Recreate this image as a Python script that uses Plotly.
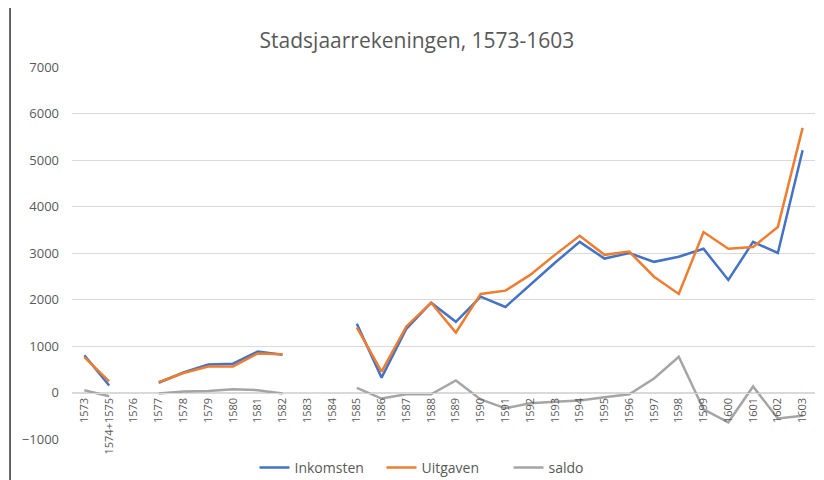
import plotly.graph_objects as go

categories = ["1573", "1574+1575", "1576", "1577", "1578", "1579", "1580", "1581", "1582",
              "1583", "1584", "1585", "1586", "1587", "1588", "1589", "1590", "1591", "1592",
              "1593", "1594", "1595", "1596", "1597", "1598", "1599", "1600", "1601", "1602", "1603"]

inkomsten = [800, 150, None, 210, 430, 600, 620, 880, 810,
             None, None, 1480, 320, 1370, 1930, 1520, 2060, 1840, 2320,
             2790, 3240, 2880, 3000, 2810, 2920, 3090, 2420, 3240, 3000, 5210]

uitgaven = [760, 240, None, 220, 420, 560, 560, 840, 820,
            None, None, 1400, 450, 1420, 1930, 1290, 2120, 2190, 2530,
            2960, 3370, 2960, 3030, 2490, 2120, 3450, 3090, 3130, 3560, 5690]

saldo = [50, -80, None, -20, 20, 30, 70, 50, -20,
         None, None, 100, -130, -40, -40, 260, -150, -340, -230,
         -200, -170, -100, -40, 300, 770, -360, -640, 130, -560, -500]

y_range = [-1000, 7000]
grey_text = "#595959"
font_family = "Open Sans"

fig = go.Figure()
fig.add_trace(go.Scatter(x=categories, y=inkomsten, name="Inkomsten", mode="lines",
                         line=dict(color="#4472C4", width=2.5)))
fig.add_trace(go.Scatter(x=categories, y=uitgaven, name="Uitgaven", mode="lines",
                         line=dict(color="#ED7D31", width=2.5)))
fig.add_trace(go.Scatter(x=categories, y=saldo, name="saldo", mode="lines",
                         line=dict(color="#A5A5A5", width=2.5)))

zero_pos = (0 - y_range[0]) / (y_range[1] - y_range[0])

# page body adds an 8px offset, so the figure is 816x472
fig.update_layout(
    width=816, height=472,
    margin=dict(l=64, r=9, t=59, b=41, autoexpand=False),
    paper_bgcolor="white", plot_bgcolor="white",
    font=dict(family=font_family, color=grey_text),
    title=dict(text="Stadsjaarrekeningen, 1573-1603", x=409 / 816, xanchor="center",
               y=1 - 33 / 472, yanchor="middle",
               font=dict(size=21, color=grey_text, family=font_family)),
    showlegend=True,
    legend=dict(orientation="h", x=0.502, xanchor="center", y=-0.078, yanchor="middle",
                font=dict(size=14, color=grey_text), itemwidth=30, entrywidth=82,
                bgcolor="rgba(0,0,0,0)"),
    xaxis=dict(type="category", categoryorder="array", categoryarray=categories,
               range=[-0.5, len(categories) - 0.5], automargin=False,
               anchor="free", position=zero_pos, showgrid=False,
               showline=True, linecolor="#D9D9D9", linewidth=1,
               tickangle=-90, tickfont=dict(size=11, color=grey_text),
               ticks="", zeroline=False),
    yaxis=dict(range=y_range, dtick=1000, showgrid=True, gridcolor="#D9D9D9",
               gridwidth=1, zeroline=False, showline=False, automargin=False,
               tickfont=dict(size=13, color=grey_text), ticklabelstandoff=12),
    shapes=[dict(type="line", xref="paper", yref="paper",
                 x0=-0.0834, x1=-0.0834, y0=-0.12, y1=1.2,
                 line=dict(color="#333333", width=1.5))],
)

fig.write_html("out.html")
